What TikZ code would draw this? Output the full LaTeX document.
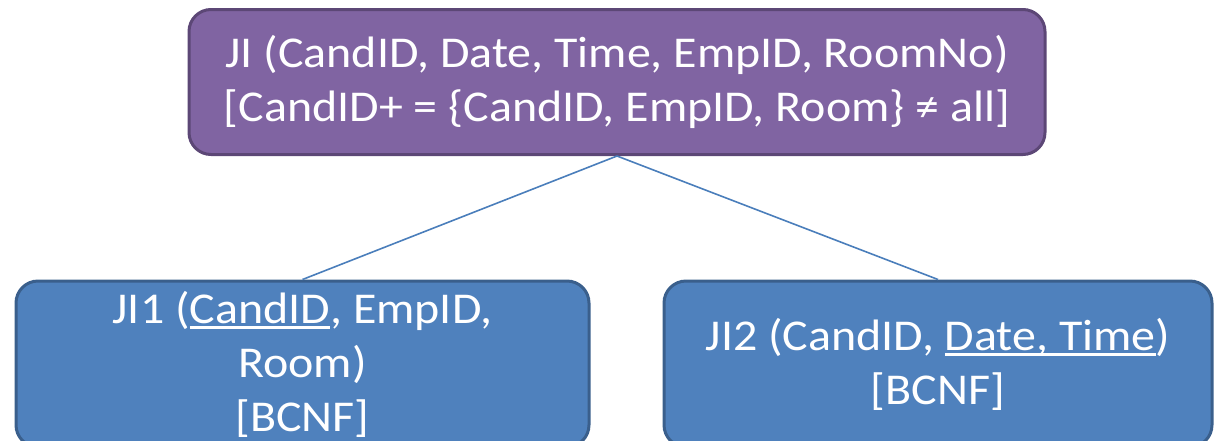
\documentclass[tikz,border=0pt]{standalone}
\usepackage{fontspec}
\setmainfont{Carlito}[FakeStretch=1.09]
\definecolor{purplefill}{HTML}{8064A2}
\definecolor{purpleedge}{HTML}{5C4776}
\definecolor{bluefill}{HTML}{4F81BD}
\definecolor{blueedge}{HTML}{3A5F8C}
\definecolor{linkblue}{HTML}{4A7EBB}
% underline drawn as a rule of fixed thickness below the text
\newcommand\keyattr[1]{\setbox0\hbox{#1}\rlap{\rule[-0.13em]{\wd0}{0.075em}}\box0}
\tikzset{
  relbox/.style={draw, line width=3pt, rounded corners=22pt, text=white,
    align=center, inner sep=0pt, font=\fontsize{44}{54}\selectfont},
  toprel/.style={relbox, fill=purplefill, draw=purpleedge},
  subrel/.style={relbox, fill=bluefill, draw=blueedge},
  link/.style={draw=linkblue, line width=1.6pt}
}
\begin{document}
\begin{tikzpicture}[x=1pt,y=-1pt]
\useasboundingbox (0,0) rectangle (1216,440);
\clip (0,0) rectangle (1216,440);
\node[toprel, minimum width=856pt, minimum height=145pt] (ji) at (617,82)
  {JI (CandID, Date, Time, EmpID, RoomNo)\\{}{[}CandID+ = \{CandID, EmpID, Room\} ≠ all{]}};
\node[subrel, minimum width=573pt, minimum height=166pt] (ji1) at (302.5,364)
  {JI1 (\keyattr{CandID}, EmpID,\\Room)\\{}{[}BCNF{]}};
\node[subrel, minimum width=548pt, minimum height=166pt] (ji2) at (938,364)
  {JI2 (CandID, \keyattr{Date, Time})\\{}{[}BCNF{]}};
\draw[link] (ji.south) -- (ji1.north);
\draw[link] (ji.south) -- (ji2.north);
\end{tikzpicture}
\end{document}
